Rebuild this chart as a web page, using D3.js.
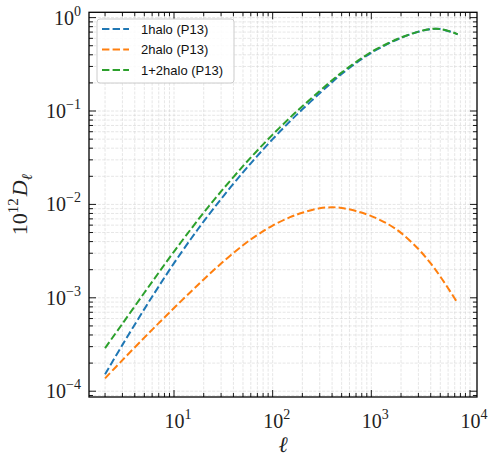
<!DOCTYPE html>
<html>
<head>
<meta charset="utf-8">
<script src="https://cdn.jsdelivr.net/npm/d3@7"></script>
<style>
  html, body { margin: 0; padding: 0; background: #fff; }
  svg { display: block; }
</style>
</head>
<body>
<svg id="chart" width="497" height="471"></svg>
<script>
// ---- data ----
const ell = [2, 3, 5, 7, 10, 15, 20, 30, 50, 70, 100, 150, 200, 300, 400, 500, 700, 1000, 1500, 2000, 3000, 4000, 5000, 7000, 7500];
const oneHalo = [1.517e-4, 3.133e-4, 7.568e-4, 1.324e-3, 2.35e-3, 4.345e-3, 6.577e-3, 1.143e-2, 2.203e-2, 3.311e-2, 5.0e-2, 7.762e-2, 0.1042, 0.1549, 0.2037, 0.2489, 0.3265, 0.421, 0.5289, 0.607, 0.7047, 0.7527, 0.7533, 0.683, 0.6601];
const twoHalo = [1.374e-4, 2.153e-4, 3.75e-4, 5.358e-4, 7.78e-4, 1.178e-3, 1.574e-3, 2.328e-3, 3.656e-3, 4.71e-3, 5.943e-3, 7.295e-3, 8.147e-3, 9.099e-3, 9.311e-3, 9.162e-3, 8.492e-3, 7.499e-3, 6.095e-3, 4.955e-3, 3.327e-3, 2.333e-3, 1.69e-3, 9.84e-4, 8.75e-4];
const totalHalo = [2.891e-4, 5.286e-4, 1.132e-3, 1.86e-3, 3.128e-3, 5.523e-3, 8.151e-3, 1.376e-2, 2.569e-2, 3.782e-2, 5.594e-2, 8.492e-2, 0.1123, 0.164, 0.213, 0.258, 0.335, 0.4285, 0.535, 0.612, 0.708, 0.755, 0.755, 0.684, 0.661];
const seriesNames = ["1halo (P13)", "2halo (P13)", "1+2halo (P13)"];
const seriesColors = ["#1f77b4", "#ff7f0e", "#2ca02c"];
const xMajorTicks = [10, 100, 1000, 10000];
const xTickExps = ["1", "2", "3", "4"];
const yMajorTicks = [1e-4, 1e-3, 1e-2, 1e-1, 1];
const yTickExps = ["\u22124", "\u22123", "\u22122", "\u22121", "0"];

// ---- layout ----
const L = 89, R = 477, T = 12.3, B = 397;
const svg = d3.select("#chart");
const x = d3.scaleLog().domain([1.375, 11780]).range([L, R]);
const y = d3.scaleLog().domain([8.67e-5, 1.14]).range([B, T]);

function logTicks(scale) {
  const [a, b] = scale.domain();
  const out = [];
  for (let e = Math.floor(Math.log10(a)); e <= Math.ceil(Math.log10(b)); e++) {
    for (let m = 1; m <= 9; m++) {
      const v = m * Math.pow(10, e);
      if (v >= a && v <= b) out.push({v, major: m === 1});
    }
  }
  return out;
}
const xt = logTicks(x), yt = logTicks(y);

// grid
const grid = svg.append("g").attr("stroke", "#d0d0d0").attr("stroke-opacity", 0.6)
  .attr("stroke-width", 0.9).attr("stroke-dasharray", "3,1.4");
xt.forEach(t => grid.append("line").attr("x1", x(t.v)).attr("x2", x(t.v)).attr("y1", T).attr("y2", B));
yt.forEach(t => grid.append("line").attr("y1", y(t.v)).attr("y2", y(t.v)).attr("x1", L).attr("x2", R));

// lines
const seriesData = [oneHalo, twoHalo, totalHalo];
const line = d3.line().x(d => x(d[0])).y(d => y(d[1])).curve(d3.curveCatmullRom.alpha(0.5));
svg.append("clipPath").attr("id", "clip").append("rect")
  .attr("x", L).attr("y", T).attr("width", R - L).attr("height", B - T);
[0, 1, 2].forEach(i => {
  svg.append("path")
    .datum(ell.map((l, k) => [l, seriesData[i][k]]))
    .attr("d", line)
    .attr("fill", "none")
    .attr("stroke", seriesColors[i])
    .attr("stroke-width", 2)
    .attr("stroke-dasharray", "7.4,3.2")
    .attr("clip-path", "url(#clip)");
});

// ticks (inside, all four sides)
const tk = svg.append("g").attr("stroke", "#000").attr("stroke-width", 0.9);
xt.forEach(t => {
  const len = t.major ? 7 : 4;
  const px = x(t.v);
  tk.append("line").attr("x1", px).attr("x2", px).attr("y1", B).attr("y2", B - len);
  tk.append("line").attr("x1", px).attr("x2", px).attr("y1", T).attr("y2", T + len);
});
yt.forEach(t => {
  const len = t.major ? 7 : 4;
  const py = y(t.v);
  tk.append("line").attr("y1", py).attr("y2", py).attr("x1", L).attr("x2", L + len);
  tk.append("line").attr("y1", py).attr("y2", py).attr("x1", R).attr("x2", R - len);
});

// frame
svg.append("rect").attr("x", L).attr("y", T).attr("width", R - L).attr("height", B - T)
  .attr("fill", "none").attr("stroke", "#000").attr("stroke-width", 1.3);

// tick labels
const serif = "'Liberation Serif', 'DejaVu Serif', serif";
xMajorTicks.forEach((v, i) => {
  const t = svg.append("text").attr("x", x(v) + 4).attr("y", 428)
    .attr("text-anchor", "middle").attr("font-family", serif).attr("font-size", 20).attr("fill", "#222");
  t.append("tspan").text("10");
  t.append("tspan").attr("dy", -9).attr("font-size", 14).text(xTickExps[i]);
});
yMajorTicks.forEach((v, i) => {
  const t = svg.append("text").attr("x", 81).attr("y", y(v) + 7)
    .attr("text-anchor", "end").attr("font-family", serif).attr("font-size", 20).attr("fill", "#222");
  t.append("tspan").text("10");
  t.append("tspan").attr("dy", -9).attr("font-size", 14).text(yTickExps[i]);
});

// axis labels
svg.append("text").attr("x", (L + R) / 2).attr("y", 452).attr("text-anchor", "middle")
  .attr("font-family", serif).attr("font-style", "italic").attr("font-size", 22).attr("fill", "#222").text("\u2113");
const yl = svg.append("text").attr("transform", `translate(27,${(T + B) / 2}) rotate(-90)`)
  .attr("text-anchor", "middle").attr("font-family", serif).attr("font-size", 22).attr("fill", "#222");
yl.append("tspan").text("10");
yl.append("tspan").attr("dy", -9).attr("font-size", 15).text("12");
yl.append("tspan").attr("dy", 9).attr("font-style", "italic").attr("dx", 2).text("D");
yl.append("tspan").attr("dy", 5).attr("font-size", 15).attr("font-style", "italic").text("\u2113");

// legend
const lg = svg.append("g");
lg.append("rect").attr("x", 97).attr("y", 19).attr("width", 137).attr("height", 64)
  .attr("rx", 3).attr("fill", "#fff").attr("fill-opacity", 0.85).attr("stroke", "#cccccc").attr("stroke-width", 1);
seriesNames.forEach((n, i) => {
  const cy = 29 + i * 20.5;
  lg.append("line").attr("x1", 102).attr("x2", 129).attr("y1", cy).attr("y2", cy)
    .attr("stroke", seriesColors[i]).attr("stroke-width", 2).attr("stroke-dasharray", "7.4,3.2");
  lg.append("text").attr("x", 141).attr("y", cy + 4.5)
    .attr("font-family", "'Liberation Sans', Arial, sans-serif").attr("font-size", 13).attr("fill", "#111").text(n);
});
</script>
</body>
</html>
